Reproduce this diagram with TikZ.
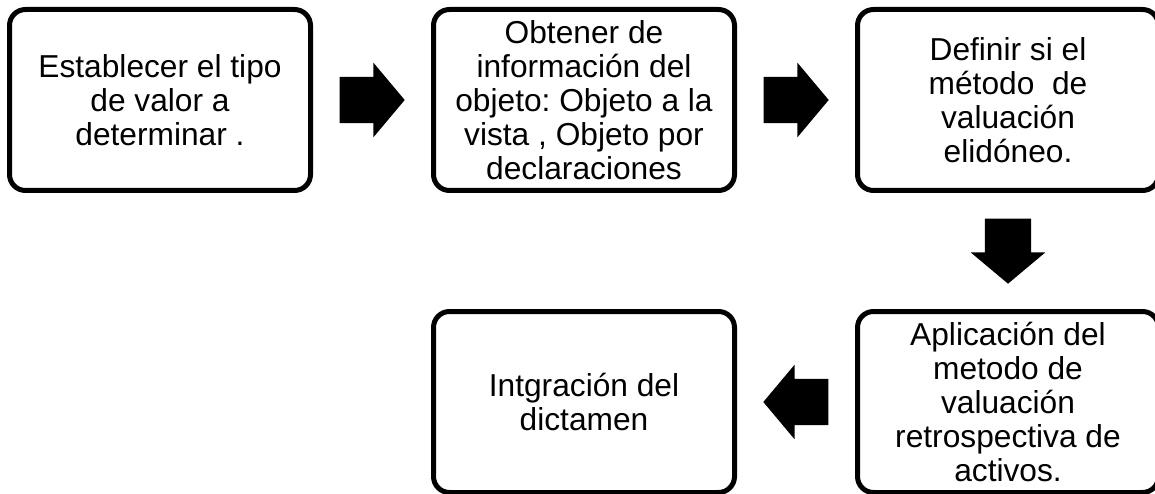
\documentclass[tikz,border=0pt]{standalone}
\usepackage{fontspec}
\setmainfont{Liberation Sans}
\usepackage{tikz}
\usetikzlibrary{shapes,arrows,positioning,calc}
\frenchspacing

\begin{document}
\begin{tikzpicture}[x=1pt, y=1pt,
    paso/.style={rectangle, draw, rounded corners=16pt, line width=5pt, minimum width=301pt, minimum height=181pt, align=center, font=\fontsize{31.7}{34}\selectfont},
    flecha/.style={single arrow, fill=black, anchor=tail, inner xsep=0pt, inner ysep=23pt, minimum height=65pt, minimum width=74pt, single arrow head extend=14pt, single arrow tip angle=100},
]
    \useasboundingbox (0,0) rectangle (1155,493);

    % Pasos
    \node[paso] (p1) at (160,393) {Establecer el tipo\\de valor a\\determinar .};
    \node[paso, right=118pt of p1] (p2) {Obtener de\\información del\\objeto: Objeto a la\\vista , Objeto por\\declaraciones};
    \node[paso, right=118pt of p2] (p3) {Definir si el\\método\ \ de\\valuación\\elidóneo.};
    \node[paso, below=116pt of p3] (p4) {Aplicación del\\metodo de\\valuación\\retrospectiva de\\activos.};
    \node[paso, below=116pt of p2] (p5) {Intgración del\\dictamen};

    % Flechas
    \node[flecha] (f1) at ($(p1.east)!0.5!(p2.west)+(-32.5,0)$) {};
    \node[flecha] (f2) at ($(p2.east)!0.5!(p3.west)+(-32.5,0)$) {};
    \node[flecha, rotate=-90] (f3) at ($(p3.south)!0.5!(p4.north)+(0,32.5)$) {};
    \node[flecha, rotate=180] (f4) at ($(p4.west)!0.5!(p5.east)+(32.5,0)$) {};
\end{tikzpicture}
\end{document}
